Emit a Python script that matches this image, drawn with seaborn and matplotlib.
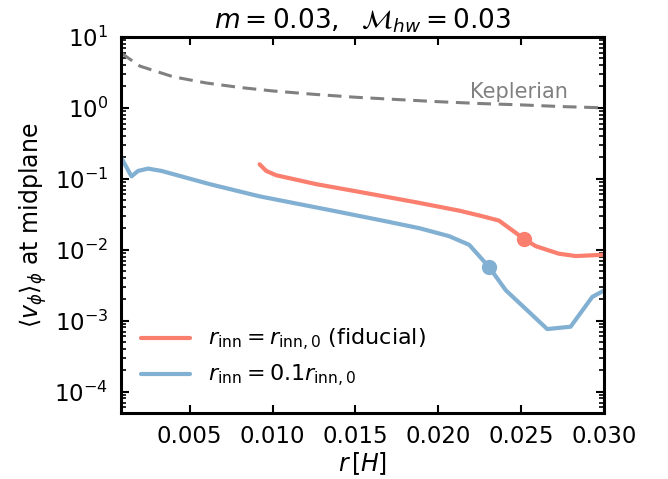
import numpy as np
import pandas as pd
import matplotlib
matplotlib.use("Agg")
import matplotlib.pyplot as plt
import seaborn as sns
from matplotlib.ticker import LogLocator, NullFormatter

# Keplerian reference (dashed)
kep_r = [0.00085, 0.002, 0.004, 0.006, 0.008, 0.010, 0.0125, 0.015, 0.0175, 0.020, 0.0225, 0.025, 0.0275, 0.030]
kep_v = [5.94, 3.87, 2.74, 2.24, 1.94, 1.73, 1.55, 1.41, 1.31, 1.22, 1.15, 1.10, 1.04, 1.00]

# r_inn = r_inn,0 (fiducial)
fid_r = [0.00922, 0.00962, 0.01022, 0.01263, 0.01564, 0.01866, 0.02127, 0.02267, 0.02367, 0.02518, 0.02589, 0.02729, 0.0283, 0.0300]
fid_v = [0.160, 0.129, 0.112, 0.084, 0.0628, 0.0466, 0.0355, 0.0296, 0.0257, 0.0142, 0.0112, 0.00877, 0.00813, 0.00848]

# r_inn = 0.1 r_inn,0
low_r = [0.00085, 0.000946, 0.001488, 0.001886, 0.002488, 0.003295, 0.006205, 0.009217, 0.01363, 0.01664, 0.01886, 0.02066, 0.02187, 0.02307, 0.02408, 0.02658, 0.02799, 0.02930, 0.0300]
low_v = [0.200, 0.184, 0.108, 0.129, 0.139, 0.129, 0.0840, 0.0565, 0.0355, 0.0257, 0.0201, 0.0155, 0.01172, 0.0057, 0.00268, 0.00076, 0.00082, 0.00216, 0.00265]

# marked points
fid_mark = (0.02518, 0.0142)
low_mark = (0.02307, 0.0057)

xticks = [0.005, 0.010, 0.015, 0.020, 0.025, 0.030]
xticklabels = ["0.005", "0.010", "0.015", "0.020", "0.025", "0.030"]

red = "#FA7F6F"
blue = "#82B0D2"

sns.set_style("ticks")
plt.rcParams["font.family"] = ["DejaVu Sans"]
plt.rcParams["mathtext.fontset"] = "dejavusans"
for k in ["text.color", "axes.labelcolor", "xtick.color", "ytick.color", "axes.edgecolor"]:
    plt.rcParams[k] = "black"

fig = plt.figure(figsize=(6.68, 4.79), dpi=100)
ax = fig.add_axes([0.181, 0.138, 0.723, 0.785])

df_kep = pd.DataFrame({"r": kep_r, "v": kep_v})
df_fid = pd.DataFrame({"r": fid_r, "v": fid_v})
df_low = pd.DataFrame({"r": low_r, "v": low_v})

sns.lineplot(data=df_kep, x="r", y="v", ax=ax, color="gray", lw=2.2, ls=(0, (4.5, 2.5)))
sns.lineplot(data=df_fid, x="r", y="v", ax=ax, color=red, lw=3,
             label=r"$r_{\rm inn}=r_{{\rm inn},0}$ (fiducial)")
sns.lineplot(data=df_low, x="r", y="v", ax=ax, color=blue, lw=3,
             label=r"$r_{\rm inn}=0.1r_{{\rm inn},0}$")
ax.plot([fid_mark[0]], [fid_mark[1]], "o", color=red, ms=10)
ax.plot([low_mark[0]], [low_mark[1]], "o", color=blue, ms=10)

ax.set_yscale("log")
ax.set_xlim(0.00085, 0.030)
ax.set_ylim(5e-5, 10)

ax.set_xticks(xticks)
ax.set_xticklabels(xticklabels)
ax.yaxis.set_major_locator(LogLocator(base=10, numticks=12))
ax.yaxis.set_minor_locator(LogLocator(base=10, subs=np.arange(2, 10), numticks=12))
ax.yaxis.set_minor_formatter(NullFormatter())

ax.tick_params(which="major", direction="in", top=True, right=True, length=6, width=1.5,
               labelsize=16.5, pad=9, colors="black")
ax.tick_params(which="minor", direction="in", top=True, right=True, length=3.5, width=1.2)
for s in ax.spines.values():
    s.set_linewidth(2.2)
    s.set_color("black")

ax.set_xlabel(r"$r\,[H]$", fontsize=17, labelpad=1)
ax.set_ylabel(r"$\langle v_{\phi}\rangle_{\phi}$ at midplane", fontsize=17)
ax.set_title(r"$m=0.03,\ \ \mathcal{M}_{hw}=0.03$", fontsize=19, pad=6)

ax.text(0.0249, 1.69, "Keplerian", color="gray", fontsize=15, ha="center", va="center")

leg = ax.legend(loc="lower left", frameon=False, fontsize=16, handlelength=2.2,
                bbox_to_anchor=(0.0, 0.01), labelspacing=0.45)

fig.savefig("out.png", dpi=100)
